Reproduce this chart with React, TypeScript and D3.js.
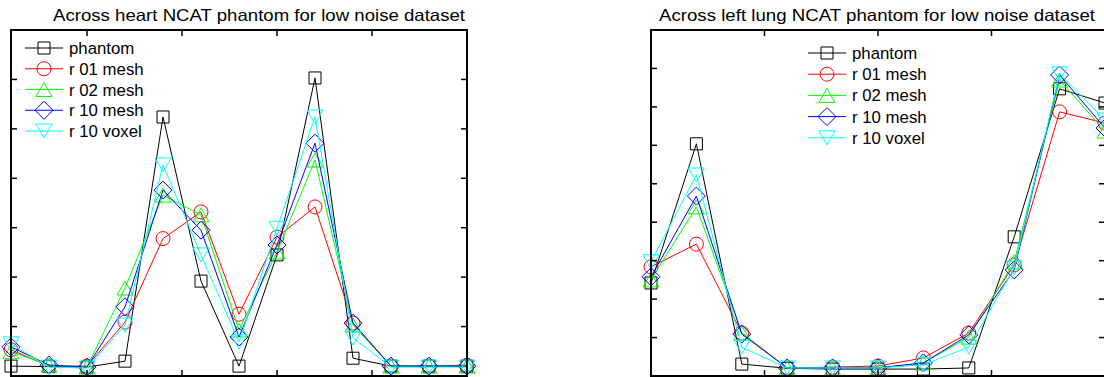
import React from 'react';
import * as d3 from 'd3';

// series order: phantom, r 01 mesh, r 02 mesh, r 10 mesh, r 10 voxel
const seriesNames = ['phantom', 'r 01 mesh', 'r 02 mesh', 'r 10 mesh', 'r 10 voxel'];
const seriesColors = ['#000000', '#ff0000', '#00ff00', '#0000ff', '#00ffff'];
const seriesMarkers = ['square', 'circle', 'triangleUp', 'diamond', 'triangleDown'];

// heart profile
const heartPos = [1, 3, 5, 7, 9, 11, 13, 15, 17, 19, 21, 23, 25];
const heartPhantom = [0.2, 0.19, 0.18, 0.3, 5.24, 1.92, 0.2, 2.45, 6.03, 0.36, 0.2, 0.2, 0.2];
const heartR01 = [0.53, 0.2, 0.2, 1.09, 2.78, 3.32, 1.25, 2.81, 3.42, 1.07, 0.2, 0.2, 0.22];
const heartR02 = [0.49, 0.22, 0.18, 1.78, 3.66, 3.26, 0.93, 2.51, 4.37, 1.03, 0.2, 0.2, 0.2];
const heartR10 = [0.59, 0.22, 0.18, 1.4, 3.76, 2.95, 0.79, 2.65, 4.71, 1.07, 0.2, 0.2, 0.2];
const heartVoxel = [0.65, 0.18, 0.16, 1.03, 4.27, 2.45, 0.69, 2.99, 5.24, 0.77, 0.18, 0.18, 0.18];
const heartXTicks = [5, 10, 15, 20];
const heartYTicks = [1, 2, 3, 4, 5, 6];

// left lung profile
const lungPos = [0, 2, 4, 6, 8, 10, 12, 14, 16, 18, 20];
const lungPhantom = [2.42, 6.04, 0.31, 0.2, 0.18, 0.18, 0.18, 0.21, 3.62, 7.47, 7.1];
const lungR01 = [2.84, 3.43, 1.12, 0.21, 0.23, 0.26, 0.47, 1.12, 2.89, 6.87, 6.58];
const lungR02 = [2.5, 4.4, 1.12, 0.21, 0.21, 0.21, 0.34, 1.01, 2.97, 7.7, 6.37];
const lungR10 = [2.58, 4.68, 1.09, 0.21, 0.21, 0.21, 0.34, 1.07, 2.76, 7.83, 6.45];
const lungVoxel = [2.97, 5.23, 0.75, 0.21, 0.21, 0.21, 0.29, 0.75, 2.81, 7.86, 6.66];
const lungXTicks = [5, 10, 15];
const lungYTicks = [1, 2, 3, 4, 5, 6, 7, 8];

const font = '"Liberation Sans", Arial, Helvetica, sans-serif';

function Marker({ type, cx, cy, color }) {
  if (type === 'circle') {
    return <circle cx={cx} cy={cy} r={7} fill="none" stroke={color} strokeWidth={1} />;
  }
  let d = '';
  if (type === 'square') d = `M${cx - 6},${cy - 6}h12v12h-12Z`;
  if (type === 'triangleUp') d = `M${cx},${cy - 7}L${cx + 8},${cy + 7}L${cx - 8},${cy + 7}Z`;
  if (type === 'triangleDown') d = `M${cx - 8},${cy - 7}L${cx + 8},${cy - 7}L${cx},${cy + 7}Z`;
  if (type === 'diamond') d = `M${cx},${cy - 9}L${cx + 9},${cy}L${cx},${cy + 9}L${cx - 9},${cy}Z`;
  return <path d={d} fill="none" stroke={color} strokeWidth={1} />;
}

function Panel({ title, titleX, titleW, xs, series, xDomain, yDomain, xTicks, yTicks, box, legend }) {
  const x = d3.scaleLinear().domain(xDomain).range([box.left, box.right]);
  const y = d3.scaleLinear().domain(yDomain).range([box.bottom, box.top]);
  const line = d3.line<number>()
    .x((d, i) => x(xs[i]))
    .y(d => y(d));
  const tl = 6;

  return (
    <g>
      <text x={titleX} y={21} textAnchor="middle" textLength={titleW} lengthAdjust="spacingAndGlyphs"
        fontFamily={font} fontSize={16.5} fill="#000">{title}</text>

      {series.map((vals, s) => (
        <g key={s}>
          <path d={line(vals)} fill="none" stroke={seriesColors[s]} strokeWidth={1} />
          {vals.map((v, i) => (
            <Marker key={i} type={seriesMarkers[s]} cx={x(xs[i])} cy={y(v)} color={seriesColors[s]} />
          ))}
        </g>
      ))}

      {xTicks.map(t => (
        <g key={'x' + t} stroke="#000" strokeWidth={1.5}>
          <line x1={x(t)} x2={x(t)} y1={box.bottom} y2={box.bottom - tl} />
          <line x1={x(t)} x2={x(t)} y1={box.top} y2={box.top + tl} />
        </g>
      ))}
      {yTicks.map(t => (
        <g key={'y' + t} stroke="#000" strokeWidth={1.5}>
          <line x1={box.left} x2={box.left + tl} y1={y(t)} y2={y(t)} />
          <line x1={box.right} x2={box.right - tl} y1={y(t)} y2={y(t)} />
        </g>
      ))}
      <rect x={box.left} y={box.top} width={box.right - box.left} height={box.bottom - box.top}
        fill="none" stroke="#000" strokeWidth={2} />

      {seriesNames.map((name, s) => {
        const cy = legend.y + s * legend.step;
        return (
          <g key={name}>
            <line x1={legend.x} x2={legend.x + 38} y1={cy} y2={cy} stroke={seriesColors[s]} strokeWidth={1} />
            <Marker type={seriesMarkers[s]} cx={legend.x + 19} cy={cy} color={seriesColors[s]} />
            <text x={legend.x + 44} y={cy + 6} fontFamily={font} fontSize={16.8} fill="#000">{name}</text>
          </g>
        );
      })}
    </g>
  );
}

export default function App() {
  return (
    <svg width={1104} height={377} style={{ position: 'absolute', left: 0, top: 0, background: '#fff' }}>
      <Panel
        title="Across heart NCAT phantom for low noise dataset"
        titleX={259}
        titleW={412}
        xs={heartPos}
        series={[heartPhantom, heartR01, heartR02, heartR10, heartVoxel]}
        xDomain={[1, 25]}
        yDomain={[0, 7]}
        xTicks={heartXTicks}
        yTicks={heartYTicks}
        box={{ left: 11, right: 467, top: 30, bottom: 376 }}
        legend={{ x: 25, y: 48, step: 20.75 }}
      />
      <Panel
        title="Across left lung NCAT phantom for low noise dataset"
        titleX={877}
        titleW={436}
        xs={lungPos}
        series={[lungPhantom, lungR01, lungR02, lungR10, lungVoxel]}
        xDomain={[0, 20]}
        yDomain={[0, 9]}
        xTicks={lungXTicks}
        yTicks={lungYTicks}
        box={{ left: 651, right: 1105, top: 30, bottom: 376 }}
        legend={{ x: 808, y: 53, step: 21.2 }}
      />
    </svg>
  );
}
